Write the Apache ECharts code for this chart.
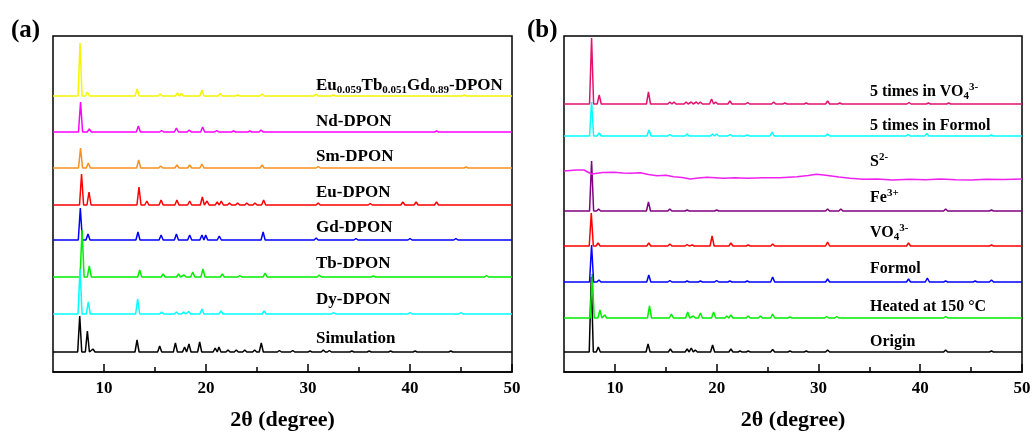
<!DOCTYPE html>
<html>
<head>
<meta charset="utf-8">
<title>XRD patterns</title>
<script src="https://cdn.jsdelivr.net/npm/echarts@6/dist/echarts.min.js"></script>
<style>
    html, body { margin: 0; padding: 0; background: #fff; }
    #main { width: 1035px; height: 432px; }
</style>
</head>
<body>
<div id="main"></div>
<script>
// tick values
var xTicks = [10, 20, 30, 40, 50];
var xMinorTicks = [15, 25, 35, 45];

// panel (a), from top to bottom
var namesA = ['Eu0.059Tb0.051Gd0.89-DPON', 'Nd-DPON', 'Sm-DPON', 'Eu-DPON', 'Gd-DPON', 'Tb-DPON', 'Dy-DPON', 'Simulation'];
var offsetsA = [276, 240, 204, 167, 132, 95, 58, 20];

// peaks: [2theta, height]
var peaksEuTbGd = [[7.65, 53], [8.37, 4], [13.25, 7], [15.5, 2], [17.2, 3], [17.6, 2.5], [19.6, 6], [21.4, 2.5], [23.1, 1], [25.5, 2], [30.8, 2], [32.5, 1], [45.3, 1]];
var peaksNd = [[7.7, 30], [8.56, 3], [13.37, 6], [15.65, 1.5], [17.1, 4], [18.36, 2], [19.67, 5], [21.05, 1.5], [22.7, 1], [24.3, 1], [25.4, 2], [42.6, 1]];
var peaksSm = [[7.7, 20], [8.46, 5], [13.4, 8], [15.56, 2], [17.15, 3], [18.4, 3], [19.6, 4], [25.5, 3], [31.0, 1.5], [45.5, 1]];
var peaksEu = [[7.8, 31], [8.53, 13], [13.43, 18], [14.2, 4], [15.6, 5], [17.15, 5], [18.4, 4], [19.64, 8], [20.1, 4], [21.1, 3], [21.5, 4], [22.3, 2], [23.1, 2], [24.0, 2], [24.8, 2], [25.65, 5], [31.0, 2], [36.1, 1.5], [39.3, 3], [40.6, 3], [42.6, 3]];
var peaksGd = [[7.68, 32], [8.43, 6], [13.33, 8], [15.6, 5], [17.1, 6], [18.4, 5], [19.6, 5], [19.97, 5], [21.3, 4], [25.6, 8], [30.8, 2], [34.7, 1.5], [40.0, 1.5], [44.5, 1.5]];
var peaksTb = [[7.85, 47], [8.56, 11], [13.5, 7], [15.8, 3], [17.3, 3], [17.85, 2], [18.7, 5], [19.7, 8], [21.6, 3], [23.3, 1.5], [25.8, 4], [31.1, 2], [36.4, 1], [47.5, 1.5]];
var peaksDy = [[7.65, 45], [8.46, 12], [13.3, 15], [15.65, 2], [17.1, 2], [17.8, 2], [18.3, 2.5], [19.6, 5], [21.47, 3], [25.7, 3], [32.5, 1.5], [40.0, 1.5], [45.0, 1.5]];
var peaksSim = [[7.62, 36], [8.37, 21], [8.92, 3], [13.24, 12], [15.46, 6], [17.0, 9], [17.9, 5], [18.33, 8], [19.38, 10], [20.9, 4], [21.27, 5], [22.16, 2], [22.97, 2], [23.8, 2], [24.77, 2], [25.42, 9], [27.2, 1.5], [28.5, 1.5], [30.2, 1], [31.5, 2], [32.1, 1.5], [34.3, 1], [36.0, 1], [38.1, 1], [40.5, 1], [44.0, 1]];
var peaksA = [peaksEuTbGd, peaksNd, peaksSm, peaksEu, peaksGd, peaksTb, peaksDy, peaksSim];

// panel (b), from top to bottom
var namesB = ['5 times in VO4 3-', '5 times in Formol', 'S2-', 'Fe3+', 'VO4 3-', 'Formol', 'Heated at 150 °C', 'Origin'];
var offsetsB = [268, 236, 0, 161, 126, 90, 54, 20];

var peaksVO4x5 = [[7.71, 66], [8.46, 9], [13.3, 12], [15.4, 2], [15.8, 2], [17.0, 2], [17.5, 2], [18.0, 2], [18.4, 2], [19.5, 5], [19.9, 2], [21.3, 3], [23.05, 1.5], [25.6, 2], [26.7, 1], [28.8, 1], [30.9, 3], [32.1, 1], [38.9, 1.5], [40.8, 1], [42.8, 1]];
var peaksFormolx5 = [[7.71, 34], [8.46, 3], [13.35, 6], [15.4, 1.5], [17.1, 2], [19.6, 2], [20.0, 2], [21.3, 1.5], [23.0, 1], [25.45, 4], [30.9, 2], [38.8, 1.5], [40.65, 2.5], [47.0, 1]];
// S2- has no peaks, only a wavy background: [2theta, level]
var curveS2 = [[5, 201], [6.2, 202], [6.96, 202], [7.71, 198], [8.8, 199.5], [9.9, 199.7], [10.8, 199], [11.5, 198.7], [12.5, 199.3], [13.3, 197.5], [14.15, 196.3], [15.0, 196.8], [15.8, 195.3], [16.6, 194.5], [17.4, 193], [18.2, 194], [19.05, 194.7], [20.7, 193.7], [21.8, 194.3], [23, 193.7], [24.6, 194.3], [26.2, 194.3], [27.9, 195.3], [29.0, 196.5], [29.8, 197.7], [30.5, 197], [31.1, 196.3], [32.0, 195], [33.1, 193.7], [34.4, 192.7], [35.8, 193], [37.25, 192], [39.0, 192.8], [40.5, 192.3], [42.0, 193], [43.5, 192.2], [45, 192], [46.5, 192.8], [48.2, 192.4], [50, 193]];
var peaksFe = [[7.71, 50], [8.4, 2], [13.3, 9], [15.4, 2], [17.1, 1], [20.0, 1], [30.9, 2], [32.2, 2], [42.5, 2], [47.0, 1]];
var peaksVO4 = [[7.68, 33], [8.35, 3], [13.33, 3], [15.4, 2], [17.1, 1.5], [17.6, 1], [19.55, 10], [21.4, 3], [23.1, 1], [25.5, 2], [30.9, 4], [38.85, 3], [47.0, 1]];
var peaksFormol = [[7.71, 37], [8.43, 2], [13.33, 7], [15.4, 1.5], [17.1, 1], [18.4, 1], [20.0, 1.5], [21.3, 1], [23.0, 1], [25.5, 5], [30.9, 3], [38.85, 3], [40.7, 4], [42.5, 1], [45.4, 1], [47.0, 2]];
var peaksHeated = [[7.77, 44], [8.53, 8], [9.0, 3], [13.4, 12], [15.55, 4], [17.15, 6], [17.7, 2], [18.4, 5], [19.7, 6], [21.0, 2], [21.4, 3], [23.1, 2], [24.3, 2], [25.5, 4], [27.2, 1], [30.8, 1.5], [31.8, 1.5], [42.5, 1.5]];
var peaksOrigin = [[7.68, 75], [8.37, 5], [13.26, 8], [15.45, 3], [17.1, 3], [17.5, 4], [17.9, 2], [19.6, 7], [21.4, 3], [22.3, 1], [23.1, 1], [25.5, 2.5], [27.2, 1], [28.8, 1], [30.9, 2], [42.5, 2], [47.0, 1]];
var peaksB = [peaksVO4x5, peaksFormolx5, null, peaksFe, peaksVO4, peaksFormol, peaksHeated, peaksOrigin];

var colorsA = ['#F5F500', '#FF00FF', '#F7901E', '#FF0000', '#0000FF', '#00EE00', '#00FFFF', '#000000'];
var colorsB = ['#E3126E', '#00FFFF', '#F020F0', '#800080', '#FF0000', '#0000FF', '#00EE00', '#000000'];

// label layout (pixels)
var labelYA = [86, 122, 157, 193, 228, 264, 300, 339];
var labelYB = [92, 126, 162, 198, 233, 269, 307, 342];
var richA = [
    'Eu{s|0.059}Tb{s|0.051}Gd{s|0.89}-DPON', 'Nd-DPON', 'Sm-DPON', 'Eu-DPON',
    'Gd-DPON', 'Tb-DPON', 'Dy-DPON', 'Simulation'
];
var richB = [
    '5 times in VO{s|4}{p|3-}', '5 times in Formol', 'S{p|2-}', 'Fe{p|3+}',
    'VO{s|4}{p|3-}', 'Formol', 'Heated at 150 °C', 'Origin'
];

var serif = "'Times New Roman', 'Liberation Serif', serif";
var HALF_W = 0.2;

//把峰位转成折线
function buildPattern(peaks, offset) {
    var pts = [[5, offset]];
    for (var i = 0; i < peaks.length; i++) {
        pts.push([peaks[i][0] - HALF_W, offset]);
        pts.push([peaks[i][0], offset + peaks[i][1]]);
        pts.push([peaks[i][0] + HALF_W, offset]);
    }
    pts.push([50, offset]);
    return pts;
}

function lineSeries(name, data, color, idx) {
    return {
        name: name,
        type: 'line',
        xAxisIndex: idx * 2,
        yAxisIndex: idx,
        data: data,
        showSymbol: false,
        symbol: 'none',
        animation: false,
        lineStyle: { color: color, width: 1.5 },
        emphasis: { disabled: true }
    };
}

var series = [];
// panel a: top series first so lower ones sit on top
for (var i = 0; i < namesA.length; i++) {
    series.push(lineSeries(namesA[i], buildPattern(peaksA[i], offsetsA[i]), colorsA[i], 0));
}
// panel b: bottom series first
for (var j = namesB.length - 1; j >= 0; j--) {
    var d = peaksB[j] ? buildPattern(peaksB[j], offsetsB[j]) : curveS2;
    series.push(lineSeries(namesB[j], d, colorsB[j], 1));
}

function makeXAxes(gi) {
    return [{
        gridIndex: gi,
        type: 'value',
        min: 5,
        max: 50,
        position: 'bottom',
        axisLine: { lineStyle: { color: '#000', width: 1.5 } },
        axisTick: { inside: true, length: 8, customValues: xTicks, lineStyle: { color: '#000', width: 1.5 } },
        axisLabel: { customValues: xTicks, margin: 8, color: '#000', fontSize: 17, fontWeight: 'bold', fontFamily: serif },
        splitLine: { show: false },
        name: '2θ (degree)',
        nameLocation: 'middle',
        nameGap: 37,
        nameTextStyle: { color: '#000', fontSize: 22, fontWeight: 'bold', fontFamily: serif }
    }, {
        gridIndex: gi,
        type: 'value',
        min: 5,
        max: 50,
        position: 'bottom',
        offset: 0,
        axisLine: { show: false },
        axisTick: { inside: true, length: 5, customValues: xMinorTicks, lineStyle: { color: '#000', width: 1.5 } },
        axisLabel: { show: false },
        splitLine: { show: false }
    }];
}

var graphics = [
    { type: 'text', x: 11, y: 31, style: { text: '(a)', fill: '#000', font: 'bold 25px ' + serif, verticalAlign: 'middle' } },
    { type: 'text', x: 527, y: 31, style: { text: '(b)', fill: '#000', font: 'bold 25px ' + serif, verticalAlign: 'middle' } }
];

function labelText(x, y, txt, size) {
    return {
        type: 'text',
        x: x,
        y: y,
        style: {
            text: txt,
            fill: '#000',
            fontSize: size,
            fontWeight: 'bold',
            fontFamily: serif,
            lineHeight: 20,
            verticalAlign: 'middle',
            rich: {
                s: { fontSize: 11, fontWeight: 'bold', fontFamily: serif, lineHeight: 11, verticalAlign: 'bottom', fill: '#000' },
                p: { fontSize: 11, fontWeight: 'bold', fontFamily: serif, lineHeight: 11, verticalAlign: 'top', fill: '#000' }
            }
        }
    };
}

for (var k = 0; k < richA.length; k++) {
    graphics.push(labelText(316, labelYA[k], richA[k], 17));
}
for (var m = 0; m < richB.length; m++) {
    graphics.push(labelText(870, labelYB[m], richB[m], 16));
}

var chart = echarts.init(document.getElementById('main'), null, { renderer: 'canvas' });
var option = {
    backgroundColor: '#fff',
    animation: false,
    grid: [
        { left: 53, top: 36, width: 459, height: 336, outerBoundsMode: 'none', show: true, borderColor: '#000', borderWidth: 1.5, backgroundColor: 'transparent' },
        { left: 564, top: 36, width: 458, height: 336, outerBoundsMode: 'none', show: true, borderColor: '#000', borderWidth: 1.5, backgroundColor: 'transparent' }
    ],
    xAxis: makeXAxes(0).concat(makeXAxes(1)),
    yAxis: [
        { gridIndex: 0, type: 'value', min: 0, max: 336, show: false },
        { gridIndex: 1, type: 'value', min: 0, max: 336, show: false }
    ],
    series: series,
    graphic: graphics
};
chart.setOption(option);
</script>
</body>
</html>
